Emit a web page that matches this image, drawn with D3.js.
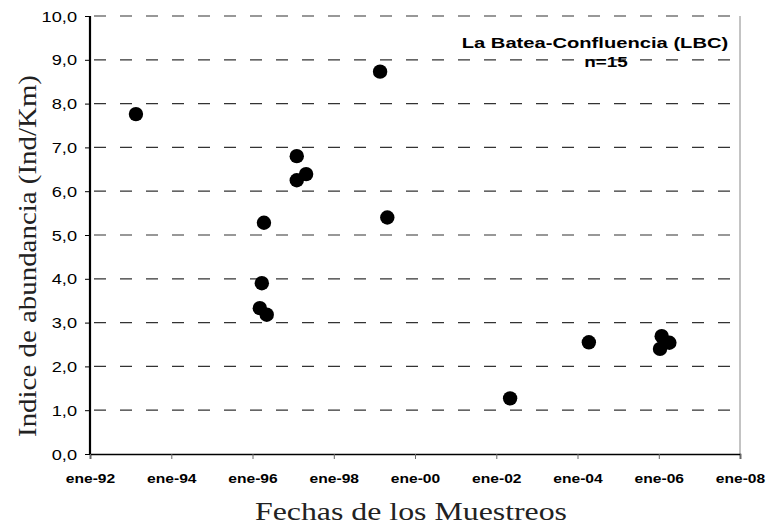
<!DOCTYPE html>
<html><head><meta charset="utf-8">
<script src="https://cdn.jsdelivr.net/npm/d3@7"></script>
<style>body{margin:0;background:#fff}</style></head>
<body><svg id="c" width="773" height="527"></svg>
<script>
const sampleDates = ["1993-02-17","1996-03-07","1996-03-25","1996-04-13","1996-05-08","1997-02-02","1997-02-02","1997-04-27","1999-02-21","1999-04-27","2002-05-05","2004-04-12","2006-01-12","2006-01-27","2006-04-06"];
const abundance = [7.76,3.33,3.90,5.28,3.18,6.80,6.25,6.39,8.73,5.40,1.27,2.55,2.40,2.69,2.54];
const yTicks = [0,1,2,3,4,5,6,7,8,9,10];
const xTickYears = [1992,1994,1996,1998,2000,2002,2004,2006,2008];
const monthAbbr = "ene";
const titleLine1 = "La Batea-Confluencia (LBC)";
const titleLine2 = "n=15";
const xTitle = "Fechas de los Muestreos";
const yTitle = "Indice de abundancia (Ind/Km)";

const svg = d3.select("#c");
const L=90,R=740,T=16,B=454;
const parse = d3.timeParse("%Y-%m-%d");
const x = d3.scaleTime().domain([new Date(1992,0,1), new Date(2008,0,1)]).range([L,R]);
const y = d3.scaleLinear().domain([0,10]).range([B,T]);

function stretch(sel,k){ sel.each(function(){ const w=this.getComputedTextLength(); d3.select(this).attr("textLength",w*k).attr("lengthAdjust","spacingAndGlyphs"); }); }
function fit(sel,w){ sel.attr("textLength",w).attr("lengthAdjust","spacingAndGlyphs"); }

// gridlines
svg.append("g").selectAll("line").data(yTicks.filter(d=>d>0)).join("line")
  .attr("x1",L).attr("x2",R).attr("y1",d=>y(d)).attr("y2",d=>y(d))
  .attr("stroke","#333").attr("stroke-width",1.2).attr("stroke-dasharray","12,14")
  .attr("stroke-dashoffset",-4);

// right border
svg.append("line").attr("x1",R).attr("x2",R).attr("y1",T).attr("y2",B).attr("stroke","#888").attr("stroke-width",1);

// x axis
const xAxis = svg.append("g").attr("transform",`translate(0,${B})`)
  .call(d3.axisBottom(x).tickValues(xTickYears.map(yr=>new Date(yr,0,1))).tickSize(5).tickPadding(4)
    .tickFormat(d=>monthAbbr+"-"+String(d.getFullYear()).slice(2)));
xAxis.select(".domain").attr("stroke","#000").attr("stroke-width",1.6);
xAxis.selectAll(".tick line").attr("stroke","#666");
xAxis.selectAll("text").attr("font-family","Liberation Sans, Arial, sans-serif").attr("font-weight","bold").attr("font-size",12).attr("fill","#000").attr("y",20).attr("dy","0.71em");
stretch(xAxis.selectAll("text"),1.3);

// y axis
const yAxis = svg.append("g").attr("transform",`translate(${L},0)`)
  .call(d3.axisLeft(y).tickValues(yTicks).tickSize(5).tickPadding(8).tickFormat(d=>d3.format(".1f")(d).replace(".",",")));
yAxis.select(".domain").attr("stroke","#000").attr("stroke-width",2.2).attr("d",`M0,${T}V${B}`);
yAxis.selectAll(".tick line").attr("stroke","#000");
yAxis.selectAll("text").attr("font-family","Liberation Sans, Arial, sans-serif").attr("font-size",14).attr("fill","#000").attr("x",-13).attr("dy","0.36em");
stretch(yAxis.selectAll("text"),1.3);

// points
svg.append("g").selectAll("circle").data(sampleDates.map((d,i)=>({date:parse(d),v:abundance[i]}))).join("circle")
  .attr("cx",d=>x(d.date)).attr("cy",d=>y(d.v)).attr("r",7.2).attr("fill","#000");

// annotation
const t1 = svg.append("text").attr("x",595).attr("y",48).attr("text-anchor","middle")
  .attr("font-family","Liberation Sans, Arial, sans-serif").attr("font-weight","bold").attr("font-size",14.5).text(titleLine1);
stretch(t1,1.39);
const t2 = svg.append("text").attr("x",606).attr("y",67).attr("text-anchor","middle")
  .attr("font-family","Liberation Sans, Arial, sans-serif").attr("font-weight","bold").attr("font-size",14.5).text(titleLine2);
stretch(t2,1.3);

// axis titles
const xt = svg.append("text").attr("x",411).attr("y",520).attr("text-anchor","middle")
  .attr("font-family","Liberation Serif, Times New Roman, serif").attr("font-size",25).attr("fill","#222").text(xTitle);
fit(xt,312);
const yt = svg.append("text").attr("transform","translate(36,256) rotate(-90)").attr("text-anchor","middle")
  .attr("font-family","Liberation Serif, Times New Roman, serif").attr("font-size",26).attr("fill","#222").text(yTitle);
fit(yt,362);
</script></body></html>
